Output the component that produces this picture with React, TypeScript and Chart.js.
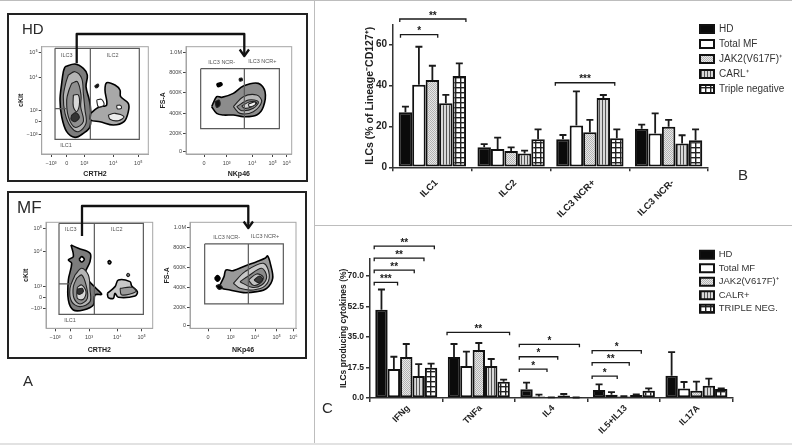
import React, { useEffect, useRef } from "react";
import { Chart, registerables } from "chart.js";

Chart.register(...registerables);

const FONT = '"Liberation Sans", Arial, sans-serif';
const INK = "#222";

// ---------- Panel B ----------
const bCategories = ["ILC1", "ILC2", "ILC3 NCR+", "ILC3 NCR-"];
const bNames = ["HD", "Total MF", "JAK2(V617F)⁺", "CARL⁺", "Triple negative"];
const bHd = [26.9, 9.8, 13.7, 18.9];
const bMf = [40.4, 9, 20.5, 16.5];
const bJak = [42.7, 8, 17.1, 19.9];
const bCarl = [31.3, 6.8, 33.9, 11.7];
const bTriple = [44.7, 13.7, 14.2, 13.2];
const bHdTop = [29.7, 11.3, 15.8, 20.9];
const bMfTop = [59, 14.5, 37.2, 26.4];
const bJakTop = [49.7, 9.8, 23.2, 23.2];
const bCarlTop = [35.5, 8.2, 35.4, 15.7];
const bTripleTop = [50.9, 18.6, 18.6, 18.6];
const bTicks = [0, 20, 40, 60];
// from, to (on the category axis), height (on the value axis), stars
const bBrackets: [number, number, number, string][] = [
  [-0.414, 0.426, 72.6, "**"],
  [-0.405, 0.068, 64.9, "*"],
  [1.561, 2.316, 41.4, "***"],
];

// ---------- Panel C ----------
const cCategories = ["IFNg", "TNFa", "IL4", "IL5+IL13", "IL17A"];
const cNames = ["HD", "Total MF", "JAK2(V617F)⁺", "CALR+", "TRIPLE NEG."];
const cHd = [50.7, 23.5, 5, 4.6, 12.8];
const cMf = [16.6, 18.4, 0.8, 1.9, 5.5];
const cJak = [23.5, 27.5, 0.2, 0.8, 4.2];
const cCalr = [12.6, 18.4, 1.5, 1.7, 7.1];
const cTriple = [17.4, 9.4, 0.2, 4.2, 5.2];
const cHdTop = [62.3, 31, 8.8, 7.8, 26.4];
const cMfTop = [23.7, 26.6, 1.9, 3.4, 9.2];
const cJakTop = [31, 31.6, 0.4, 1, 9.4];
const cCalrTop = [19.5, 22.4, 2.3, 2.1, 11.1];
const cTripleTop = [19.7, 10.5, 0.3, 5.5, 5.5];
const cTicks = [0, 17.5, 35, 52.5, 70];
const cBrackets: [number, number, number, string][] = [
  [-0.442, -0.12, 66.4, "***"],
  [-0.442, 0.11, 73.4, "**"],
  [-0.442, 0.244, 80.3, "**"],
  [-0.442, 0.387, 87.2, "**"],
  [0.562, 1.424, 37.7, "**"],
  [1.558, 1.94, 16.6, "*"],
  [1.558, 2.088, 23.7, "*"],
  [1.558, 2.387, 30.8, "*"],
  [2.562, 2.908, 12.6, "*"],
  [2.562, 3.074, 20.3, "**"],
  [2.562, 3.24, 27.2, "*"],
];

// ---------- Panel A: flow cytometry contours, in scan channels ----------
type Pt = [number, number];
const hdGateOuter: Pt[] = [[165, 145], [418, 145], [418, 418], [165, 418], [165, 145]];
const hdGateSplit: Pt[] = [[271, 145], [271, 418]];
const hdGateCross: Pt[] = [[165, 326], [200, 326]];
const hdBlob: Pt[][] = [
  [[195, 200], [225, 192], [250, 205], [262, 225], [258, 260], [268, 300], [272, 330], [270, 380], [250, 400], [225, 412], [200, 395], [185, 350], [180, 300], [185, 250], [190, 215], [195, 200]],
  [[205, 225], [225, 215], [245, 235], [250, 280], [255, 330], [258, 370], [235, 395], [212, 380], [195, 340], [190, 290], [197, 250], [205, 225]],
  [[215, 250], [232, 245], [243, 285], [242, 320], [250, 365], [225, 382], [205, 350], [200, 300], [207, 270], [215, 250]],
  [[220, 285], [235, 285], [238, 315], [230, 335], [220, 320], [220, 285]],
  [[215, 345], [228, 338], [238, 352], [225, 365], [213, 358], [215, 345]],
];
const hdSide: Pt[][] = [
  [[272, 340], [290, 325], [300, 320], [320, 315], [315, 270], [320, 248], [345, 255], [360, 270], [362, 290], [385, 310], [385, 335], [372, 365], [340, 375], [300, 365], [272, 360], [272, 340]],
  [[325, 345], [345, 340], [372, 350], [355, 362], [330, 358], [325, 345]],
  [[290, 300], [305, 298], [312, 315], [295, 320], [290, 300]],
  [[350, 316], [362, 316], [364, 325], [352, 326], [350, 316]],
  [[284, 258], [294, 252], [296, 258], [288, 264], [284, 258]],
];
const hdNkGateOuter: Pt[] = [[602, 206], [838, 206], [838, 386], [602, 386], [602, 206]];
const hdNkGateSplit: Pt[] = [[733, 206], [733, 386]];
const hdNkBlob: Pt[][] = [
  [[635, 320], [650, 290], [665, 292], [700, 280], [730, 258], [775, 250], [795, 275], [790, 320], [770, 345], [730, 350], [700, 345], [670, 345], [650, 340], [635, 320]],
  [[700, 320], [730, 290], [770, 285], [785, 305], [760, 335], [720, 340], [700, 320]],
  [[710, 320], [745, 300], [775, 305], [760, 325], [725, 332], [710, 320]],
  [[725, 318], [750, 305], [770, 308], [755, 320], [735, 325], [725, 318]],
  [[745, 312], [765, 306], [766, 314], [748, 320], [745, 312]],
];
const hdNkSpecks: Pt[][] = [
  [[650, 252], [662, 248], [666, 254], [654, 260], [650, 252]],
  [[717, 236], [725, 234], [727, 241], [719, 243], [717, 236]],
  [[645, 305], [657, 300], [660, 315], [650, 322], [645, 305]],
];

const mfGateOuter: Pt[] = [[177, 70], [430, 70], [430, 343], [177, 343], [177, 70]];
const mfGateSplit: Pt[] = [[283, 70], [283, 343]];
const mfGateCross: Pt[] = [[177, 252], [212, 252]];
const mfBlob: Pt[][] = [
  [[213, 135], [235, 145], [270, 160], [270, 185], [255, 225], [285, 262], [305, 283], [285, 285], [280, 315], [250, 330], [220, 330], [205, 300], [205, 240], [215, 190], [205, 180], [220, 170], [213, 135]],
  [[225, 225], [245, 205], [265, 225], [270, 270], [270, 305], [240, 320], [215, 305], [210, 265], [225, 225]],
  [[230, 235], [245, 225], [258, 255], [262, 295], [240, 312], [222, 295], [220, 260], [230, 235]],
  [[232, 262], [245, 255], [258, 275], [250, 298], [232, 295], [232, 262]],
  [[232, 268], [246, 265], [250, 275], [240, 283], [232, 280], [232, 268]],
];
const mfHole: Pt[] = [[237, 178], [245, 170], [253, 178], [245, 186], [237, 178]];
const mfSpecks: Pt[][] = [
  [[323, 187], [328, 182], [333, 187], [328, 192], [323, 187]],
  [[379, 225], [384, 220], [389, 225], [384, 230], [379, 225]],
];
const mfSide: Pt[][] = [
  [[322, 280], [345, 260], [355, 240], [390, 245], [395, 258], [412, 275], [405, 288], [355, 292], [345, 280], [340, 295], [325, 293], [322, 280]],
  [[360, 265], [395, 262], [408, 275], [365, 285], [360, 265]],
];
const mfNkGateOuter: Pt[] = [[614, 132], [850, 132], [850, 312], [614, 312], [614, 132]];
const mfNkGateSplit: Pt[] = [[745, 132], [745, 312]];
const mfNkBlob: Pt[][] = [
  [[660, 255], [672, 230], [678, 210], [700, 212], [735, 198], [770, 185], [795, 175], [803, 168], [812, 195], [818, 235], [800, 265], [770, 275], [730, 278], [690, 270], [665, 265], [660, 255]],
  [[700, 250], [735, 215], [790, 190], [808, 225], [795, 258], [760, 270], [720, 265], [700, 250]],
  [[720, 245], [745, 228], [785, 205], [800, 230], [785, 255], [755, 262], [720, 245]],
  [[745, 240], [770, 222], [790, 232], [780, 250], [760, 256], [745, 240]],
  [[762, 240], [778, 228], [788, 238], [775, 248], [762, 240]],
];
const mfNkSpecks: Pt[][] = [
  [[644, 235], [652, 227], [660, 235], [652, 244], [644, 235]],
  [[648, 258], [658, 254], [668, 264], [656, 268], [648, 258]],
];

const ringFills = ["#7c7c7c", "#b5b5b5", "#8f8f8f", "#d8d8d8", "#333333"];
const sideFills = ["#a8a8a8", "#ededed", "#ffffff", "#ffffff", "#111"];

const hd1XTicks: [number, string][] = [[153, "−10³"], [200, "0"], [253, "10³"], [340, "10⁴"], [415, "10⁵"]];
const hd1YTicks: [number, string][] = [[158, "10⁵"], [232, "10⁴"], [330, "10³"], [365, "0"], [402, "−10³"]];
const hd2XTicks: [number, string][] = [[612, "0"], [680, "10³"], [757, "10⁴"], [818, "10⁵"], [860, "10⁶"]];
const hd2YTicks: [number, string][] = [[158, "1.0M"], [217, "800K"], [278, "600K"], [340, "400K"], [400, "200K"], [455, "0"]];
const mf1XTicks: [number, string][] = [[165, "−10³"], [212, "0"], [267, "10³"], [352, "10⁴"], [425, "10⁵"]];
const mf1YTicks: [number, string][] = [[85, "10⁵"], [155, "10⁴"], [260, "10³"], [292, "0"], [327, "−10³"]];
const mf2XTicks: [number, string][] = [[624, "0"], [692, "10³"], [765, "10⁴"], [830, "10⁵"], [880, "10⁶"]];
const mf2YTicks: [number, string][] = [[82, "1.0M"], [142, "800K"], [202, "600K"], [263, "400K"], [323, "200K"], [378, "0"]];

const hd1Notes: [number, number, string][] = [[200, 165, "ILC3"], [338, 165, "ILC2"], [198, 436, "ILC1"]];
const hd2Notes: [number, number, string][] = [[665, 187, "ILC3 NCR-"], [787, 185, "ILC3 NCR+"]];
const mf1Notes: [number, number, string][] = [[212, 90, "ILC3"], [350, 90, "ILC2"], [210, 362, "ILC1"]];
const mf2Notes: [number, number, string][] = [[680, 112, "ILC3 NCR-"], [795, 110, "ILC3 NCR+"]];

// ---------- helpers ----------
function pattern(size: number, paint: (c: CanvasRenderingContext2D) => void): CanvasPattern {
  const cv = document.createElement("canvas");
  cv.width = size;
  cv.height = size;
  const c = cv.getContext("2d")!;
  paint(c);
  return c.createPattern(cv, "repeat")!;
}

function seriesFills() {
  const dots = pattern(2, (c) => {
    c.fillStyle = "#e8e8e8";
    c.fillRect(0, 0, 2, 2);
    c.fillStyle = "#b4b4b4";
    c.fillRect(0, 0, 1, 1);
    c.fillRect(1, 1, 1, 1);
  });
  const stripes = pattern(3, (c) => {
    c.fillStyle = "#d8d8d8";
    c.fillRect(0, 0, 3, 3);
    c.fillStyle = "#555";
    c.fillRect(0, 0, 1, 3);
  });
  const grid = pattern(5, (c) => {
    c.fillStyle = "#fff";
    c.fillRect(0, 0, 5, 5);
    c.fillStyle = "#222";
    c.fillRect(0, 0, 5, 1.4);
    c.fillRect(0, 0, 1.4, 5);
  });
  return ["#0b0b0b", "#ffffff", dots, stripes, grid];
}

type Box = { left: number; top: number; width: number; height: number };

const noMargins = (s: any) => {
  s.paddingLeft = 0;
  s.paddingRight = 0;
  s.paddingTop = 0;
  s.paddingBottom = 0;
};

function barChart(
  canvas: HTMLCanvasElement,
  cfg: {
    box: Box;
    plot: { left: number; top: number; right: number; bottom: number };
    titleFont: number;
    tickFont: number;
    xFont: number;
    xPad: number;
    xShift: number;
    yMax: number;
    yTicks: number[];
    yFormat: (v: number) => string;
    yTitle: string;
    yTitlePad: number;
    categories: string[];
    names: string[];
    values: number[][];
    tops: number[][];
    brackets: [number, number, number, string][];
    legendX: number;
    legendY: number;
    legendFont: number;
    legendGap: number;
  }
) {
  const fills = seriesFills();
  const { box, plot } = cfg;
  const overlay = {
    id: "overlay",
    afterLayout(chart: any) {
      const lg = chart.legend;
      lg.left = cfg.legendX - box.left - cfg.legendGap;
      lg.right = box.width;
      lg.top = cfg.legendY - box.top;
      lg.bottom = lg.top + 150;
    },
    afterDatasetsDraw(chart: any) {
      const ctx = chart.ctx;
      ctx.save();
      ctx.strokeStyle = "#1a1a1a";
      ctx.lineWidth = 1.8;
      cfg.tops.forEach((tops, i) => {
        chart.getDatasetMeta(i).data.forEach((bar: any, j: number) => {
          const y = chart.scales.y.getPixelForValue(tops[j]);
          ctx.beginPath();
          ctx.moveTo(bar.x, chart.scales.y.getPixelForValue(cfg.values[i][j]));
          ctx.lineTo(bar.x, y);
          ctx.moveTo(bar.x - 3.5, y);
          ctx.lineTo(bar.x + 3.5, y);
          ctx.stroke();
        });
      });
      ctx.fillStyle = "#1a1a1a";
      ctx.font = `bold 10px ${FONT}`;
      ctx.textAlign = "center";
      ctx.textBaseline = "middle";
      cfg.brackets.forEach(([a, b, v, stars]) => {
        const x0 = chart.scales.x.getPixelForValue(a);
        const x1 = chart.scales.x.getPixelForValue(b);
        const y = chart.scales.y.getPixelForValue(v);
        ctx.lineWidth = 1.3;
        ctx.beginPath();
        ctx.moveTo(x0, y + 3);
        ctx.lineTo(x0, y);
        ctx.lineTo(x1, y);
        ctx.lineTo(x1, y + 3);
        ctx.stroke();
        ctx.fillText(stars, (x0 + x1) / 2, y - 3);
      });
      ctx.restore();
    },
  };
  return new Chart(canvas, {
    type: "bar",
    data: {
      labels: cfg.categories,
      datasets: cfg.names.map((name, i) => ({
        label: name,
        data: cfg.values[i],
        backgroundColor: fills[i] as any,
        borderColor: "#111",
        borderWidth: 2,
        borderSkipped: false,
        categoryPercentage: 0.855,
        barPercentage: 1,
      })),
    },
    options: {
      animation: false,
      responsive: false,
      layout: { padding: { left: 0, top: plot.top - box.top, right: 0, bottom: 0 } },
      plugins: {
        tooltip: { enabled: false },
        legend: {
          position: "right",
          align: "start",
          maxWidth: box.left + box.width - plot.right,
          labels: {
            boxWidth: 14,
            boxHeight: 8,
            padding: cfg.legendGap,
            color: "#333",
            font: { family: FONT, size: cfg.legendFont },
          },
        },
      },
      scales: {
        x: {
          afterFit: (s: any) => {
            s.height = box.top + box.height - plot.bottom;
            noMargins(s);
          },
          grid: { drawOnChartArea: false, tickLength: 4, color: "#333", lineWidth: 1.5 },
          border: { color: "#333", width: 1.5 },
          ticks: {
            autoSkip: false,
            minRotation: 45,
            maxRotation: 45,
            padding: cfg.xPad,
            labelOffset: cfg.xShift,
            color: "#222",
            font: { family: FONT, size: cfg.xFont, weight: "bold" },
          },
        },
        y: {
          min: 0,
          max: cfg.yMax,
          afterFit: (s: any) => {
            s.width = plot.left - box.left;
            noMargins(s);
          },
          afterBuildTicks: (s: any) => {
            s.ticks = cfg.yTicks.map((value) => ({ value }));
          },
          grid: { drawOnChartArea: false, tickLength: 4, color: "#333", lineWidth: 1.5 },
          border: { color: "#333", width: 1.5 },
          title: {
            display: true,
            text: cfg.yTitle,
            color: "#222",
            padding: { top: cfg.yTitlePad, bottom: 0 },
            font: { family: FONT, size: cfg.titleFont, weight: "bold" },
          },
          ticks: {
            autoSkip: false,
            padding: 2,
            color: "#222",
            font: { family: FONT, size: cfg.tickFont, weight: "bold" },
            callback: (v: any) => cfg.yFormat(Number(v)),
          },
        },
      },
    },
    plugins: [overlay],
  } as any);
}

function ringSet(rings: Pt[][], fills: string[], tension = 0.35) {
  return rings.map((pts, i) => ({
    data: pts.map(([x, y]) => ({ x, y })),
    showLine: true,
    fill: "shape",
    backgroundColor: fills[i] ?? "#999",
    borderColor: i === 0 ? "#000" : "#222",
    borderWidth: i === 0 ? 1.6 : 1.1,
    pointRadius: 0,
    tension,
  }));
}

function gateSet(lines: Pt[][]) {
  return lines.map((pts) => ({
    data: pts.map(([x, y]) => ({ x, y })),
    showLine: true,
    fill: false,
    borderColor: "#5a5a5a",
    borderWidth: 1.2,
    pointRadius: 0,
    tension: 0,
  }));
}

function flowChart(
  canvas: HTMLCanvasElement,
  cfg: {
    box: Box;
    plot: { left: number; top: number; right: number; bottom: number };
    x: [number, number];
    y: [number, number];
    xTicks: [number, string][];
    yTicks: [number, string][];
    xTitle: string;
    yTitle: string;
    layers: any[]; // back to front
    notes: [number, number, string][];
  }
) {
  const { box, plot } = cfg;
  const deco = {
    id: "deco",
    beforeDatasetsDraw(chart: any) {
      const a = chart.chartArea;
      const ctx = chart.ctx;
      ctx.save();
      ctx.strokeStyle = "#a5a5a5";
      ctx.lineWidth = 1;
      ctx.strokeRect(a.left, a.top, a.right - a.left, a.bottom - a.top);
      ctx.restore();
    },
    afterDatasetsDraw(chart: any) {
      const ctx = chart.ctx;
      ctx.save();
      ctx.fillStyle = "#555";
      ctx.font = `5.5px ${FONT}`;
      ctx.textAlign = "center";
      ctx.textBaseline = "middle";
      cfg.notes.forEach(([x, y, t]) => {
        ctx.fillText(t, chart.scales.x.getPixelForValue(x), chart.scales.y.getPixelForValue(y));
      });
      ctx.restore();
    },
  };
  const axis = (ticks: [number, string][], pad: number) => ({
    afterBuildTicks: (s: any) => {
      s.ticks = ticks.map(([value]) => ({ value }));
    },
    grid: { drawOnChartArea: false, tickLength: 3, color: "#444", lineWidth: 1 },
    border: { color: "#a5a5a5" },
    ticks: {
      autoSkip: false,
      maxRotation: 0,
      padding: pad,
      color: "#444",
      font: { family: FONT, size: 5.5 },
      callback: (v: any) => ticks.find(([p]) => p === Number(v))?.[1] ?? "",
    },
  });
  const titleOf = (text: string, pad: any) => ({
    display: true,
    text,
    color: "#222",
    padding: pad,
    font: { family: FONT, size: 7, weight: "bold" },
  });
  return new Chart(canvas, {
    type: "scatter",
    data: { datasets: [...cfg.layers].reverse() },
    options: {
      animation: false,
      responsive: false,
      layout: {
        padding: {
          left: 0,
          top: plot.top - box.top,
          right: box.left + box.width - plot.right,
          bottom: 0,
        },
      },
      plugins: { legend: { display: false }, tooltip: { enabled: false } },
      scales: {
        x: {
          ...axis(cfg.xTicks, 3),
          type: "linear",
          min: cfg.x[0],
          max: cfg.x[1],
          afterFit: (s: any) => {
            s.height = box.top + box.height - plot.bottom;
            noMargins(s);
          },
          title: titleOf(cfg.xTitle, { top: 0, bottom: 2 }),
        },
        y: {
          ...axis(cfg.yTicks, 1),
          type: "linear",
          reverse: true,
          min: cfg.y[0],
          max: cfg.y[1],
          afterFit: (s: any) => {
            s.width = plot.left - box.left;
            noMargins(s);
          },
          title: titleOf(cfg.yTitle, { top: 3, bottom: 0 }),
        },
      },
    },
    plugins: [deco],
  } as any);
}

// ---------- layout of the panes on the page ----------
const boxB: Box = { left: 320, top: 2, width: 472, height: 218 };
const plotB = { left: 393, top: 24.3, right: 708, bottom: 167.3 };
const boxC: Box = { left: 320, top: 226, width: 472, height: 216 };
const plotC = { left: 370, top: 258.7, right: 732.7, bottom: 398 };

const boxA1: Box = { left: 14, top: 40, width: 138, height: 140 };
const plotA1 = { left: 41.7, top: 46.7, right: 148.3, bottom: 154 };
const boxA2: Box = { left: 156, top: 40, width: 140, height: 140 };
const plotA2 = { left: 186, top: 46.7, right: 291.7, bottom: 154 };
const boxA3: Box = { left: 19, top: 216, width: 138, height: 140 };
const plotA3 = { left: 46, top: 222.3, right: 152.7, bottom: 328.3 };
const boxA4: Box = { left: 160, top: 216, width: 140, height: 140 };
const plotA4 = { left: 190, top: 222.3, right: 296, bottom: 328.3 };

function Pane({ box, build }: { box: Box; build: (c: HTMLCanvasElement) => Chart }) {
  const ref = useRef<HTMLCanvasElement>(null);
  useEffect(() => {
    const chart = build(ref.current!);
    return () => chart.destroy();
  }, []);
  return (
    <canvas
      ref={ref}
      width={box.width}
      height={box.height}
      style={{ position: "absolute", left: box.left, top: box.top, width: box.width, height: box.height }}
    />
  );
}

function Letter({ x, y, size, text }: { x: number; y: number; size: number; text: string }) {
  return (
    <div style={{ position: "absolute", left: x, top: y - size * 0.6, fontSize: size, lineHeight: 1.2, color: "#2a2a2a" }}>{text}</div>
  );
}

function Rule({ left, top, width, height, color = "#bdbdbd" }: any) {
  return <div style={{ position: "absolute", left, top, width, height, background: color }} />;
}

function Frame({ left, top, width, height }: any) {
  return <div style={{ position: "absolute", left, top, width, height, border: `2px solid ${INK}`, boxSizing: "border-box" }} />;
}

export default function App() {
  return (
    <div
      style={{
        position: "absolute",
        left: 0,
        top: 0,
        width: 792,
        height: 445,
        overflow: "hidden",
        background: "#fff",
        fontFamily: FONT,
      }}
    >
      <div style={{ position: "absolute", inset: 0, filter: "blur(0.55px)" }}>
        <Rule left={0} top={0} width={792} height={1} />
        <Rule left={314} top={0} width={1} height={445} />
        <Rule left={315} top={225} width={477} height={1} />
        <Rule left={0} top={443} width={792} height={2} color="#e2e2e2" />

        <Frame left={7} top={13} width={301} height={169} />
        <Frame left={7} top={191} width={300} height={168} />

        <Pane
          box={boxA1}
          build={(c) =>
            flowChart(c, {
              box: boxA1,
              plot: plotA1,
              x: [125, 445],
              y: [140, 462],
              xTicks: hd1XTicks,
              yTicks: hd1YTicks,
              xTitle: "CRTH2",
              yTitle: "cKit",
              layers: [
                ...ringSet(hdBlob, ringFills),
                ...ringSet(hdSide, sideFills),
                ...gateSet([hdGateOuter, hdGateSplit, hdGateCross]),
              ],
              notes: hd1Notes,
            })
          }
        />
        <Pane
          box={boxA2}
          build={(c) =>
            flowChart(c, {
              box: boxA2,
              plot: plotA2,
              x: [558, 875],
              y: [140, 462],
              xTicks: hd2XTicks,
              yTicks: hd2YTicks,
              xTitle: "NKp46",
              yTitle: "FS-A",
              layers: [
                ...ringSet(hdNkBlob, ["#8c8c8c", "#b8b8b8", "#8a8a8a", "#d4d4d4", "#f2f2f2"]),
                ...ringSet(hdNkSpecks, ["#000", "#000", "#111"]),
                ...gateSet([hdNkGateOuter, hdNkGateSplit]),
              ],
              notes: hd2Notes,
            })
          }
        />
        <Pane
          box={boxA3}
          build={(c) =>
            flowChart(c, {
              box: boxA3,
              plot: plotA3,
              x: [138, 458],
              y: [67, 385],
              xTicks: mf1XTicks,
              yTicks: mf1YTicks,
              xTitle: "CRTH2",
              yTitle: "cKit",
              layers: [
                ...ringSet(mfBlob, ringFills),
                ...ringSet([mfHole], ["#fff"]),
                ...ringSet(mfSide, ["#c8c8c8", "#9a9a9a"]),
                ...ringSet(mfSpecks, ["#777", "#777"]),
                ...gateSet([mfGateOuter, mfGateSplit, mfGateCross]),
              ],
              notes: mf1Notes,
            })
          }
        />
        <Pane
          box={boxA4}
          build={(c) =>
            flowChart(c, {
              box: boxA4,
              plot: plotA4,
              x: [570, 888],
              y: [67, 385],
              xTicks: mf2XTicks,
              yTicks: mf2YTicks,
              xTitle: "NKp46",
              yTitle: "FS-A",
              layers: [
                ...ringSet(mfNkBlob, ["#9a9a9a", "#c8c8c8", "#8a8a8a", "#c0c0c0", "#3a3a3a"]),
                ...ringSet(mfNkSpecks, ["#000", "#000"]),
                ...gateSet([mfNkGateOuter, mfNkGateSplit]),
              ],
              notes: mf2Notes,
            })
          }
        />

        <svg width={792} height={445} style={{ position: "absolute", left: 0, top: 0 }}>
          <g fill="none" stroke="#111" strokeWidth={2.3} strokeLinejoin="round">
            <path d="M76.7 63.3V34H244.3V55" />
            <path d="M239.7 49.5L244.3 56L249 49.5" />
            <path d="M82 236V206H248.3V227" />
            <path d="M243.7 221.5L248.3 228L253 221.5" />
          </g>
        </svg>

        <Letter x={22} y={29} size={15} text="HD" />
        <Letter x={17} y={208} size={17} text="MF" />
        <Letter x={23} y={381} size={15} text="A" />
        <Letter x={738} y={175} size={15} text="B" />
        <Letter x={322} y={408} size={15} text="C" />

        <Pane
          box={boxB}
          build={(c) =>
            barChart(c, {
              box: boxB,
              plot: plotB,
              titleFont: 10.5,
              tickFont: 10,
              xFont: 9.5,
              xPad: 6,
              xShift: 4,
              yMax: 70,
              yTicks: bTicks,
              yFormat: (v) => String(v),
              yTitle: "ILCs (% of Lineage⁻CD127⁺)",
              yTitlePad: 44,
              categories: bCategories,
              names: bNames,
              values: [bHd, bMf, bJak, bCarl, bTriple],
              tops: [bHdTop, bMfTop, bJakTop, bCarlTop, bTripleTop],
              brackets: bBrackets,
              legendX: 700,
              legendY: 19,
              legendFont: 10,
              legendGap: 5,
            })
          }
        />
        <Pane
          box={boxC}
          build={(c) =>
            barChart(c, {
              box: boxC,
              plot: plotC,
              titleFont: 8.5,
              tickFont: 8.5,
              xFont: 9,
              xPad: 1,
              xShift: 2,
              yMax: 80,
              yTicks: cTicks,
              yFormat: (v) => v.toFixed(1),
              yTitle: "ILCs producing cytokines (%)",
              yTitlePad: 19,
              categories: cCategories,
              names: cNames,
              values: [cHd, cMf, cJak, cCalr, cTriple],
              tops: [cHdTop, cMfTop, cJakTop, cCalrTop, cTripleTop],
              brackets: cBrackets,
              legendX: 700,
              legendY: 246,
              legendFont: 9.5,
              legendGap: 4,
            })
          }
        />
      </div>
    </div>
  );
}
